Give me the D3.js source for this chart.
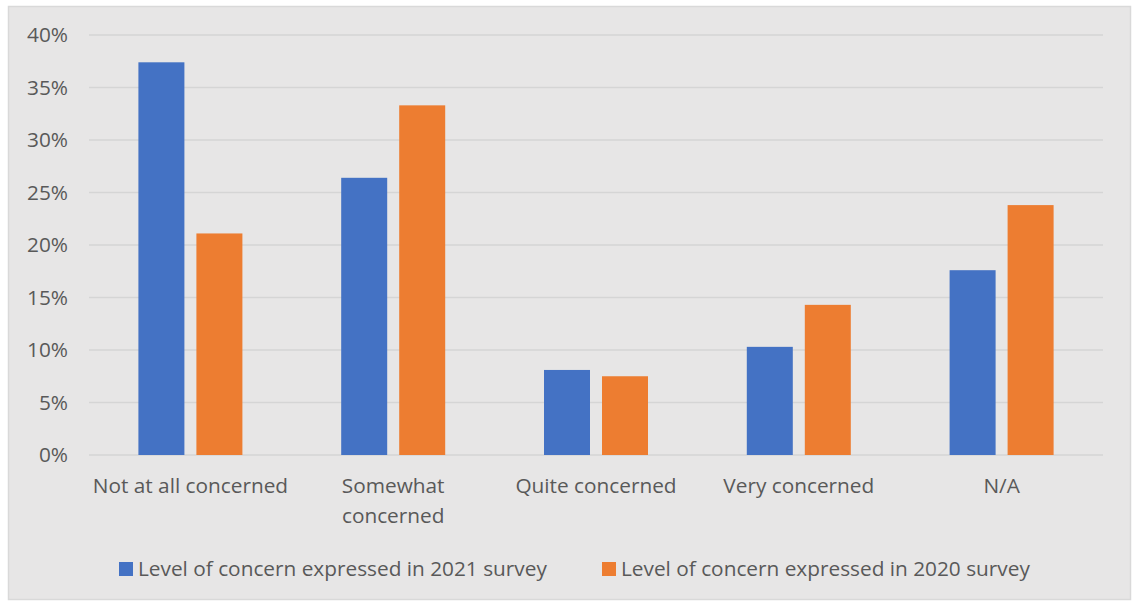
<!DOCTYPE html>
<html lang="en">
<head>
    <meta charset="UTF-8">
    <title>Level of concern</title>
    <script src="https://cdnjs.cloudflare.com/ajax/libs/d3/7.8.5/d3.min.js"></script>
    <style>
        * { margin: 0; padding: 0; box-sizing: border-box; }
        body { background: #ffffff; font-family: 'Open Sans', sans-serif; }
        #chart { width: 1134px; height: 604px; }
    </style>
</head>
<body>
    <div id="chart"></div>

    <script>
        const categories = ['Not at all concerned', 'Somewhat concerned', 'Quite concerned', 'Very concerned', 'N/A'];
        const seriesNames = ['Level of concern expressed in 2021 survey', 'Level of concern expressed in 2020 survey'];
        const values2021 = [0.374, 0.264, 0.081, 0.103, 0.176];
        const values2020 = [0.211, 0.333, 0.075, 0.143, 0.238];
        const yTicks = [0, 0.05, 0.10, 0.15, 0.20, 0.25, 0.30, 0.35, 0.40];
        const colors = ['#4472c4', '#ed7d31'];

        // wrapped label lines for the x axis
        const labelLines = {
            'Somewhat concerned': ['Somewhat', 'concerned']
        };

        const width = 1134, height = 604;
        const plot = { left: 89, right: 1103, top: 35, bottom: 455 };
        const fontSize = '20.8px';

        const svg = d3.select('#chart').append('svg')
            .attr('width', width)
            .attr('height', height);

        // chart area background + border
        svg.append('rect')
            .attr('x', 8.5).attr('y', 6.5)
            .attr('width', 1122).attr('height', 593)
            .attr('fill', '#e7e6e6')
            .attr('stroke', '#d9d9d9')
            .attr('stroke-width', 1.5);

        const y = d3.scaleLinear().domain([0, 0.4]).range([plot.bottom, plot.top]);
        const x0 = d3.scaleBand().domain(categories).range([plot.left, plot.right]);
        const groupW = 104;
        const x1 = d3.scaleBand().domain([0, 1])
            .range([x0.bandwidth() / 2 - groupW / 2, x0.bandwidth() / 2 + groupW / 2])
            .paddingInner(0.207);

        // gridlines
        svg.append('g')
            .selectAll('line')
            .data(yTicks)
            .enter().append('line')
            .attr('x1', plot.left).attr('x2', plot.right)
            .attr('y1', d => y(d)).attr('y2', d => y(d))
            .attr('stroke', '#d5d5d5')
            .attr('stroke-width', 1.5);

        // y tick labels
        svg.append('g')
            .selectAll('text')
            .data(yTicks)
            .enter().append('text')
            .attr('x', 68)
            .attr('y', d => y(d))
            .attr('dy', '0.35em')
            .attr('text-anchor', 'end')
            .attr('fill', '#595959')
            .style('font-size', fontSize)
            .text(d3.format('.0%'));

        // bars
        const rows = categories.map((c, i) => ({ cat: c, vals: [values2021[i], values2020[i]] }));
        const groups = svg.append('g')
            .selectAll('g')
            .data(rows)
            .enter().append('g')
            .attr('transform', d => `translate(${x0(d.cat)},0)`);

        groups.selectAll('rect')
            .data(d => d.vals.map((v, s) => ({ s, v })))
            .enter().append('rect')
            .attr('x', d => x1(d.s))
            .attr('width', x1.bandwidth())
            .attr('y', d => y(d.v))
            .attr('height', d => y(0) - y(d.v))
            .attr('fill', d => colors[d.s]);

        // x labels
        const xl = svg.append('g')
            .selectAll('text')
            .data(categories)
            .enter().append('text')
            .attr('x', d => x0(d) + x0.bandwidth() / 2)
            .attr('y', 493)
            .attr('text-anchor', 'middle')
            .attr('fill', '#595959')
            .style('font-size', fontSize);

        xl.each(function (d) {
            const lines = labelLines[d] || [d];
            const t = d3.select(this);
            lines.forEach((ln, i) => {
                t.append('tspan')
                    .attr('x', x0(d) + x0.bandwidth() / 2)
                    .attr('dy', i === 0 ? 0 : 30)
                    .text(ln);
            });
        });

        // legend
        const legendX = [119, 602];
        const legend = svg.append('g')
            .selectAll('g')
            .data(seriesNames)
            .enter().append('g')
            .attr('transform', (d, i) => `translate(${legendX[i]},562)`);

        legend.append('rect')
            .attr('width', 14).attr('height', 14)
            .attr('fill', (d, i) => colors[i]);

        legend.append('text')
            .attr('x', 19)
            .attr('y', 7)
            .attr('dy', '0.35em')
            .attr('fill', '#595959')
            .style('font-size', fontSize)
            .text(d => d);
    </script>
</body>
</html>
